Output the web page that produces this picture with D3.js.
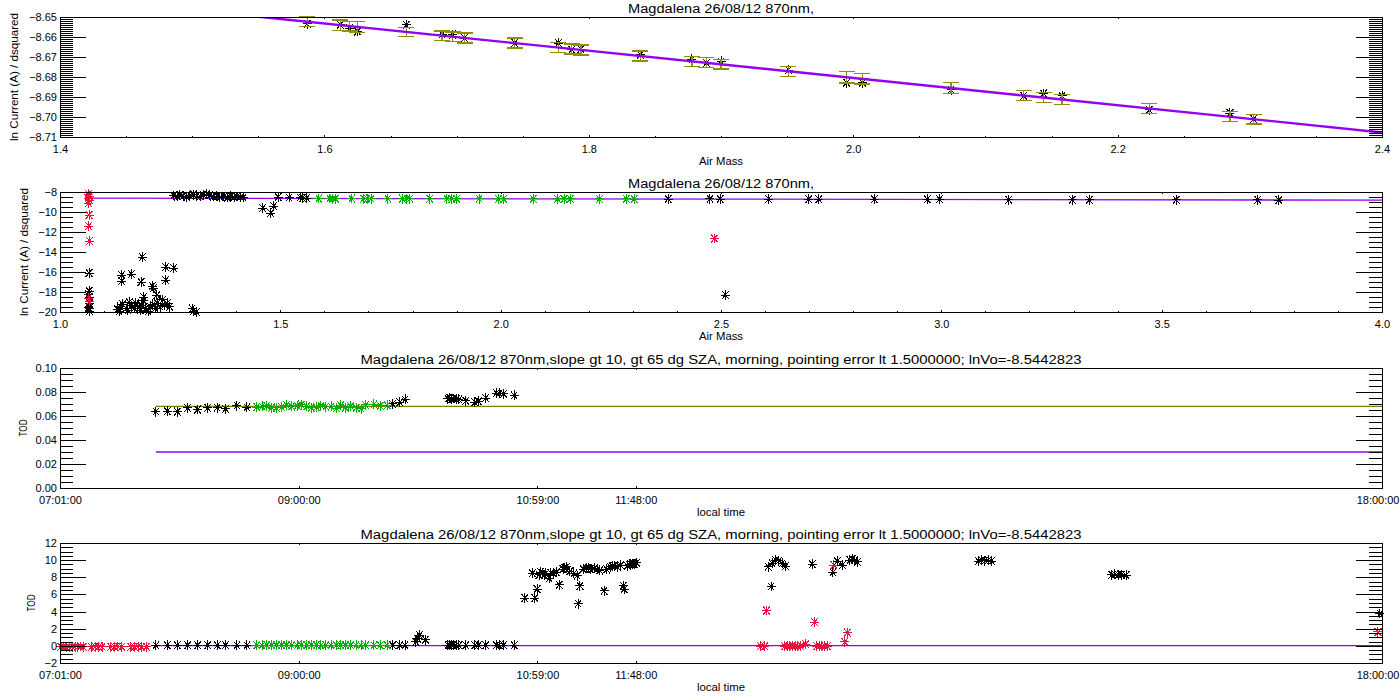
<!DOCTYPE html>
<html>
<head>
<meta charset="utf-8">
<script src="https://cdnjs.cloudflare.com/ajax/libs/d3/7.8.5/d3.min.js"></script>
<style>
  body { margin: 0; background: #fff; }
  svg { display: block; }
</style>
</head>
<body>
<svg width="1400" height="700"></svg>
<script>
// ---------- data ----------
// langley fit
const lnV0 = -8.5442823
const fitSlope = -0.0681
const fitRange2 = [1.06, 4.0]
const todLines = [0.0681, 0.030]          // olive, purple
const todLineStart = '07:48:48'

// panel 1: points used in the fit (air mass, ln current, error)
const langleyAm = [1.587, 1.612, 1.619, 1.625, 1.662, 1.689, 1.697, 1.706, 1.744, 1.777, 1.787, 1.794, 1.839,
  1.878, 1.889, 1.900, 1.951, 1.995, 2.007, 2.074, 2.129, 2.144, 2.158, 2.224, 2.285, 2.303]
const langleyLnI = [-8.6534, -8.6539, -8.6555, -8.6572, -8.6539, -8.6588, -8.6588, -8.6605, -8.6630, -8.6630,
  -8.6663, -8.6660, -8.6688, -8.6712, -8.6729, -8.6722, -8.6765, -8.6828, -8.6828, -8.6864, -8.6894, -8.6883,
  -8.6894, -8.6964, -8.6980, -8.7010]
const langleyErr = [0.0025, 0.0026, 0.0024, 0.0027, 0.0022, 0.0023, 0.0023, 0.0025, 0.0025, 0.0024, 0.0025,
  0.0025, 0.0025, 0.0025, 0.0025, 0.0024, 0.0025, 0.0028, 0.0026, 0.0027, 0.0024, 0.0024, 0.0026, 0.0025,
  0.0025, 0.0024]

// panel 2: all measurements vs air mass
const allBlackAm = [1.066, 1.066, 1.065, 1.067, 1.066, 1.065, 1.066, 1.067,
  1.130, 1.137, 1.142, 1.150, 1.157, 1.162, 1.168, 1.172, 1.177, 1.184, 1.190, 1.194, 1.200, 1.205, 1.211,
  1.216, 1.221, 1.227, 1.233, 1.237, 1.243, 1.249, 1.134, 1.154, 1.182,
  1.140, 1.140, 1.162, 1.187, 1.184, 1.210, 1.212, 1.240, 1.258, 1.240, 1.190, 1.220,
  1.300, 1.310, 1.302,
  1.258, 1.266, 1.272, 1.280, 1.288, 1.295, 1.303, 1.310, 1.318, 1.325, 1.333, 1.340, 1.348, 1.356, 1.363,
  1.372, 1.380, 1.388, 1.395, 1.402, 1.410, 1.416,
  1.460, 1.478, 1.485, 1.495, 1.520, 1.545, 1.550, 1.560,
  2.380, 2.475, 2.498, 2.608, 2.699, 2.722, 2.848, 2.968, 2.996, 3.153, 3.297, 3.336, 3.533, 3.718, 3.766,
  2.510]
const allBlackLnI = [-16.1, -17.9, -18.2, -18.5, -19.1, -19.5, -19.6, -19.9,
  -19.72, -19.47, -19.23, -19.65, -19.02, -19.37, -19.65, -19.12, -19.47, -19.30, -18.88, -19.65, -19.93,
  -19.47, -19.23, -19.65, -19.12, -19.47, -18.77, -19.30, -19.12, -19.47, -19.93, -19.83, -19.83,
  -16.3, -16.9, -16.2, -14.5, -17.0, -17.4, -17.6, -15.5, -15.6, -16.8, -18.5, -18.3,
  -19.65, -20.0, -19.95,
  -8.35, -8.45, -8.30, -8.40, -8.50, -8.35, -8.25, -8.40, -8.45, -8.30, -8.20, -8.35, -8.45, -8.40, -8.50,
  -8.45, -8.55, -8.40, -8.50, -8.45, -8.50, -8.55,
  -9.6, -10.1, -9.4, -8.5, -8.55, -8.55, -8.6, -8.6,
  -8.70, -8.68, -8.70, -8.70, -8.72, -8.72, -8.72, -8.73, -8.72, -8.78, -8.77, -8.78, -8.78, -8.78, -8.80,
  -18.3]
const allRedAm = [1.065, 1.066, 1.064, 1.066, 1.065, 1.066, 1.065, 1.067, 1.065, 1.066, 2.485]
const allRedLnI = [-8.2, -8.4, -8.6, -8.8, -9.1, -10.3, -11.4, -12.9, -18.6, -18.95, -12.65]

// panels 3 and 4: optical depth vs local time
const morningBlackTimes = ['07:48:48', '07:54:30', '07:59:30', '08:04:36', '08:09:36', '08:14:36', '08:19:24',
  '08:23:30', '08:29:12', '08:34:12', '09:46:48', '09:50:24', '09:53:00', '09:58:24', '09:59:18', '10:00:12',
  '10:03:12', '10:14:24', '10:15:18', '10:16:12', '10:17:06', '10:18:30', '10:19:48', '10:23:18', '10:27:48',
  '10:29:36', '10:33:12', '10:38:30', '10:39:54', '10:42:06', '10:47:24']
const morningBlackTod = [0.0637, 0.0640, 0.0637, 0.0668, 0.0654, 0.0668, 0.0670, 0.0660, 0.0687, 0.0673,
  0.0701, 0.0715, 0.0738, 0.46, 0.85, 1.24, 0.73, 0.0744, 0.0748, 0.0740, 0.0746, 0.0742, 0.0738, 0.0727,
  0.0715, 0.0722, 0.0750, 0.0791, 0.0788, 0.0786, 0.0772]

const langleyTimes = ['08:39:06', '08:41:42', '08:44:00', '08:46:30', '08:48:54', '08:51:30', '08:53:54',
  '08:56:30', '08:59:12', '09:01:18', '09:04:00', '09:06:18', '09:08:48', '09:11:06', '09:13:30', '09:16:06',
  '09:18:48', '09:20:54', '09:23:18', '09:25:54', '09:28:36', '09:31:06', '09:33:24', '09:37:30', '09:40:36',
  '09:44:06']
const langleyTod = [0.0675, 0.0680, 0.0685, 0.0670, 0.0668, 0.0675, 0.0690, 0.0680, 0.0685, 0.0695, 0.0680,
  0.0670, 0.0672, 0.0685, 0.0678, 0.0680, 0.0665, 0.0688, 0.0670, 0.0682, 0.0668, 0.0662, 0.0692, 0.0698,
  0.0685, 0.0690]

const noonBlackTimes = ['10:52:42', '10:57:42', '10:58:48', '10:56:30', '10:59:48', '11:01:30', '11:03:12',
  '11:04:48', '11:06:48', '11:08:30', '11:09:48', '11:11:48', '11:13:30', '11:15:12', '11:17:12', '11:18:48',
  '11:19:18', '11:20:12', '11:21:48', '11:23:30', '11:25:12', '11:27:12', '11:28:48', '11:32:12', '11:33:30',
  '11:35:12', '11:37:12', '11:38:48', '11:40:30', '11:41:48', '11:42:12', '11:43:48', '11:45:30', '11:47:12',
  '11:48:30', '11:00:36', '11:02:24', '11:05:42', '11:12:42', '11:24:24', '11:30:00', '11:36:12', '11:44:42',
  '11:46:24']
const noonBlackTod = [5.58, 5.58, 6.62, 8.46, 8.27, 8.46, 8.46, 7.88, 8.46, 8.58, 7.12, 8.96, 9.23, 8.73, 8.46,
  8.19, 4.92, 7.0, 8.96, 9.04, 8.96, 9.04, 8.92, 6.42, 8.92, 9.23, 9.35, 9.23, 9.42, 7.0, 6.62, 9.35, 9.54, 9.54,
  9.69, 8.6, 8.3, 8.5, 9.1, 9.1, 8.8, 9.3, 9.5, 9.6]

const afternoonBlackTimes = ['12:54:00', '12:55:30', '12:56:00', '12:57:42', '12:59:18', '13:01:00', '13:02:42',
  '13:16:00', '13:26:18', '13:28:30', '13:31:00', '13:34:48', '13:36:00', '13:37:12', '13:38:30', '14:38:48',
  '14:40:24', '14:42:06', '14:43:42', '14:45:24', '15:45:18', '15:46:54', '15:48:36', '15:50:12', '15:52:24',
  '17:59:00']
const afternoonBlackTod = [9.23, 6.92, 9.62, 10.0, 9.92, 9.62, 9.31, 9.54, 8.58, 9.88, 9.42, 10.0, 10.1, 10.0,
  9.8, 9.9, 10.0, 9.95, 10.0, 9.9, 8.3, 8.35, 8.3, 8.3, 8.25, 3.78]

const redTimes = ['07:01:24', '07:02:48', '07:04:12', '07:05:36', '07:07:06', '07:08:30', '07:09:54', '07:11:18',
  '07:12:36', '07:16:42', '07:18:30', '07:20:18', '07:22:00', '07:26:18', '07:28:06', '07:29:54', '07:31:42',
  '07:36:18', '07:38:06', '07:39:54', '07:41:36', '07:44:06',
  '12:50:12', '12:52:18', '12:53:12', '13:02:12', '13:03:30', '13:04:48', '13:06:12', '13:07:30', '13:08:48',
  '13:10:12', '13:12:42', '13:17:12', '13:18:12', '13:19:30', '13:20:48', '13:22:12', '13:23:30', '13:26:48',
  '13:32:12', '13:33:30', '17:58:00']
const redTod = [-0.1, -0.08, -0.12, -0.1, -0.09, -0.11, -0.1, -0.08, -0.1, -0.12, -0.1, -0.09, -0.1, -0.11,
  -0.1, -0.08, -0.1, -0.12, -0.1, -0.09, -0.1, -0.1,
  -0.05, -0.05, 4.12, -0.05, -0.05, -0.05, -0.05, -0.05, -0.05, -0.05, 0.19, 2.77, -0.05, -0.05, -0.05, -0.05,
  -0.05, 9.42, 0.46, 1.54, 1.62]

// axis ticks and labels
const timeTicks = ['07:01:00', '09:00:00', '10:59:00', '11:48:00', '18:00:00']
const title1 = 'Magdalena 26/08/12 870nm,'
const title3 = 'Magdalena 26/08/12 870nm,slope gt 10, gt 65 dg SZA, morning, pointing error lt 1.5000000; lnVo=-8.5442823'

// ---------- layout ----------
const margin = { left: 60, right: 18 }
const width = 1400 - margin.left - margin.right
const height = 120
const panelTops = [17, 192, 368, 543]
const font = '"Liberation Sans", Arial, Helvetica, sans-serif'

const colors = {
  black: '#000000',
  green: '#00b000',
  red: '#e8103c',
  purple: '#9400f0',
  olive: '#808000',
  errbar: '#8f8f00'
}

const parseTime = d3.timeParse('%H:%M:%S')
const svg = d3.select('svg')
const defs = svg.append('defs')

// IDL-like asterisk symbol
const asterisk = {
  draw(ctx, size) {
    const r = Math.sqrt(size) / 2
    const d = r * 0.72
    ctx.moveTo(-r, 0); ctx.lineTo(r, 0)
    ctx.moveTo(0, -r * 1.1); ctx.lineTo(0, r * 1.1)
    ctx.moveTo(-d, -d * 1.2); ctx.lineTo(d, d * 1.2)
    ctx.moveTo(-d, d * 1.2); ctx.lineTo(d, -d * 1.2)
  }
}
const star = d3.symbol().type(asterisk).size(81)

function zip(xs, ys) {
  return xs.map((v, i) => [v, ys[i]])
}

function addPanel(i) {
  defs.append('clipPath').attr('id', `clip${i}`)
    .append('rect').attr('width', width).attr('height', height)
  return svg.append('g').attr('transform', `translate(${margin.left}, ${panelTops[i]})`)
}

function styleAxis(g) {
  g.attr('font-family', font).attr('font-size', 11)
    .attr('shape-rendering', 'crispEdges')
  g.selectAll('text').attr('fill', '#000')
}

function drawAxes(g, x, y, o) {
  const ax = [
    [d3.axisBottom(x).tickValues(o.xMajor).tickSize(-2.4).tickPadding(7.7).tickFormat(o.xFormat), `translate(0, ${height})`],
    [d3.axisTop(x).tickValues(o.xMajor).tickSize(-2.4).tickFormat(''), 'translate(0, 0)'],
    [d3.axisLeft(y).tickValues(o.yMajor).tickSize(-26.4).tickPadding(3).tickFormat(o.yFormat), 'translate(0, 0)'],
    [d3.axisRight(y).tickValues(o.yMajor).tickSize(-26.4).tickFormat(''), `translate(${width}, 0)`],
    [d3.axisLeft(y).tickValues(o.yMinor).tickSize(-13.2).tickFormat(''), 'translate(0, 0)'],
    [d3.axisRight(y).tickValues(o.yMinor).tickSize(-13.2).tickFormat(''), `translate(${width}, 0)`]
  ]
  if (o.xMinor) {
    ax.push([d3.axisBottom(x).tickValues(o.xMinor).tickSize(-1.2).tickFormat(''), `translate(0, ${height})`])
    ax.push([d3.axisTop(x).tickValues(o.xMinor).tickSize(-1.2).tickFormat(''), 'translate(0, 0)'])
  }
  ax.forEach(([axis, tr], k) => {
    const a = g.append('g').attr('transform', tr).call(axis.tickSizeOuter(0)).call(styleAxis)
    // keep the last bottom label inside the window
    if (k === 0 && o.lastLabelEnd) {
      a.selectAll('.tick:last-of-type text').attr('text-anchor', 'end').attr('x', 17)
    }
  })
}

function drawTitles(g, o) {
  g.append('text')
    .attr('x', width / 2).attr('y', -4.5)
    .attr('text-anchor', 'middle').attr('font-family', font).attr('font-size', 12.5)
    .attr('textLength', o.titleLen).attr('lengthAdjust', 'spacingAndGlyphs')
    .text(o.title)
  g.append('text')
    .attr('x', width / 2).attr('y', height + 28)
    .attr('text-anchor', 'middle').attr('font-family', font).attr('font-size', 10)
    .attr('textLength', o.xTitleLen).attr('lengthAdjust', 'spacingAndGlyphs')
    .text(o.xTitle)
  g.append('text')
    .attr('transform', `translate(${o.yTitleX - margin.left}, ${height / 2}) rotate(-90)`)
    .attr('text-anchor', 'middle').attr('dy', '0.35em')
    .attr('font-family', font).attr('font-size', 10.5)
    .attr('textLength', o.yTitleLen).attr('lengthAdjust', 'spacingAndGlyphs')
    .text(o.yTitle)
}

function drawStars(g, x, y, pts, color) {
  const [x0, x1] = d3.extent(x.domain())
  const [y0, y1] = d3.extent(y.domain())
  const inside = pts.filter(d => d[0] >= x0 && d[0] <= x1 && d[1] >= y0 && d[1] <= y1)
  g.append('g')
    .selectAll('path')
    .data(inside)
    .join('path')
    .attr('transform', d => `translate(${x(d[0])}, ${y(d[1])})`)
    .attr('d', star)
    .attr('fill', 'none')
    .attr('stroke', color)
    .attr('stroke-width', 1)
    .attr('shape-rendering', 'crispEdges')
}

function drawLine(g, i, pts, x, y, color, w) {
  g.append('path')
    .datum(pts)
    .attr('clip-path', `url(#clip${i})`)
    .attr('d', d3.line().x(d => x(d[0])).y(d => y(d[1])))
    .attr('fill', 'none')
    .attr('stroke', color)
    .attr('stroke-width', w)
}

// ---------- panel 1: langley points ----------
{
  const g = addPanel(0)
  const x = d3.scaleLinear().domain([1.4, 2.4]).range([0, width])
  const y = d3.scaleLinear().domain([-8.71, -8.65]).range([height, 0])

  drawStars(g, x, y, zip(langleyAm, langleyLnI), colors.black)

  // error bars centred on the fitted line
  const bars = g.append('g').attr('stroke', colors.errbar).attr('stroke-width', 1.3)
    .attr('shape-rendering', 'crispEdges')
    .selectAll('g').data(langleyAm.map((am, i) => ({ am, err: langleyErr[i] })))
    .join('g')
  const fitAt = am => lnV0 + fitSlope * am
  bars.append('line')
    .attr('x1', d => x(d.am)).attr('x2', d => x(d.am))
    .attr('y1', d => y(fitAt(d.am) - d.err)).attr('y2', d => y(fitAt(d.am) + d.err))
  bars.append('line')
    .attr('x1', d => x(d.am) - 8).attr('x2', d => x(d.am) + 8)
    .attr('y1', d => y(fitAt(d.am) - d.err)).attr('y2', d => y(fitAt(d.am) - d.err))
  bars.append('line')
    .attr('x1', d => x(d.am) - 8).attr('x2', d => x(d.am) + 8)
    .attr('y1', d => y(fitAt(d.am) + d.err)).attr('y2', d => y(fitAt(d.am) + d.err))

  drawLine(g, 0, x.domain().map(am => [am, fitAt(am)]), x, y, colors.purple, 2.4)

  drawAxes(g, x, y, {
    xMajor: d3.ticks(1.4, 2.4, 5), xMinor: d3.ticks(1.4, 2.4, 20), xFormat: d3.format('.1f'),
    yMajor: d3.ticks(-8.71, -8.65, 6), yMinor: d3.ticks(-8.71, -8.65, 60), yFormat: d3.format('.2f')
  })
  drawTitles(g, {
    title: title1, titleLen: 186, xTitle: 'Air Mass', xTitleLen: 44,
    yTitle: 'ln Current (A) / dsquared', yTitleLen: 128, yTitleX: 14
  })
}

// ---------- panel 2: all points vs air mass ----------
{
  const g = addPanel(1)
  const x = d3.scaleLinear().domain([1.0, 4.0]).range([0, width])
  const y = d3.scaleLinear().domain([-20, -8]).range([height, 0])

  drawLine(g, 1, fitRange2.map(am => [am, lnV0 + fitSlope * am]), x, y, colors.purple, 1.3)
  drawStars(g, x, y, zip(allBlackAm, allBlackLnI), colors.black)
  drawStars(g, x, y, zip(langleyAm, langleyLnI), colors.green)
  drawStars(g, x, y, zip(allRedAm, allRedLnI), colors.red)

  drawAxes(g, x, y, {
    xMajor: d3.ticks(1, 4, 6), xMinor: d3.ticks(1, 4, 30), xFormat: d3.format('.1f'),
    yMajor: d3.range(-20, -7, 2), yMinor: d3.range(-20, -7.9, 0.5), yFormat: d3.format('d')
  })
  drawTitles(g, {
    title: title1, titleLen: 186, xTitle: 'Air Mass', xTitleLen: 44,
    yTitle: 'ln Current (A) / dsquared', yTitleLen: 128, yTitleX: 24
  })
}

// ---------- panels 3 and 4: optical depth vs time ----------
function todPanel(i, yDomain, yMajor, yMinor, yFormat, yTitleX, lineIdx) {
  const g = addPanel(i)
  const x = d3.scaleTime().domain([parseTime('07:01:00'), parseTime('18:00:00')]).range([0, width])
  const y = d3.scaleLinear().domain(yDomain).range([height, 0])
  const t = arr => arr.map(parseTime)

  const lineColors = [colors.olive, colors.purple]
  lineIdx.forEach(k => {
    const v = todLines[k]
    drawLine(g, i, [[parseTime(todLineStart), v], [x.domain()[1], v]], x, y, lineColors[k], 1.3)
  })

  drawStars(g, x, y, zip(t(redTimes), redTod), colors.red)
  drawStars(g, x, y, zip(t(morningBlackTimes), morningBlackTod), colors.black)
  drawStars(g, x, y, zip(t(noonBlackTimes), noonBlackTod), colors.black)
  drawStars(g, x, y, zip(t(afternoonBlackTimes), afternoonBlackTod), colors.black)
  drawStars(g, x, y, zip(t(langleyTimes), langleyTod), colors.green)

  drawAxes(g, x, y, {
    xMajor: t(timeTicks), xMinor: null, xFormat: d3.timeFormat('%H:%M:%S'),
    yMajor, yMinor, yFormat, lastLabelEnd: true
  })
  drawTitles(g, {
    title: title3, titleLen: 721, xTitle: 'local time', xTitleLen: 48,
    yTitle: 'TOD', yTitleLen: 17, yTitleX
  })
}

todPanel(2, [0, 0.1], d3.ticks(0, 0.1, 5), d3.ticks(0, 0.1, 20), d3.format('.2f'), 23, [0, 1])
todPanel(3, [-2, 12], d3.range(-2, 13, 2), d3.range(-2, 12.1, 0.5), d3.format('d'), 31, [1])
</script>
</body>
</html>
